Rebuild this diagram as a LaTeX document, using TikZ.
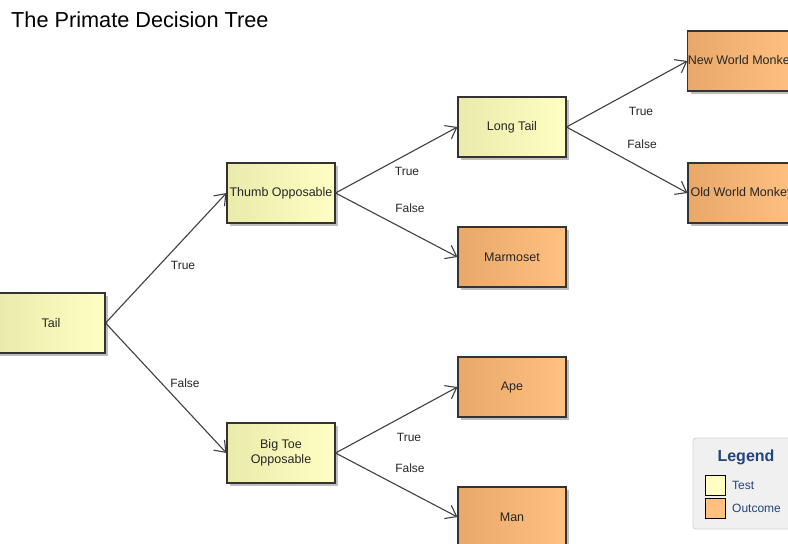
\documentclass[tikz,border=0pt]{standalone}
\usepackage{fontspec}
\setmainfont{Liberation Sans}
\usetikzlibrary{arrows.meta,shadows}
\definecolor{testL}{HTML}{EAEAAC}
\definecolor{testR}{HTML}{FFFFC3}
\definecolor{outL}{HTML}{E8A86A}
\definecolor{outR}{HTML}{FFC082}
\definecolor{edgec}{HTML}{404040}
\definecolor{legblue}{HTML}{23447A}
\definecolor{legfill}{HTML}{F0F0F0}
\definecolor{legdraw}{HTML}{D4D4D4}
\begin{document}
\begin{tikzpicture}[x=1pt,y=-1pt,
 box/.style={draw=black!80, line width=1.1pt, minimum width=108pt, minimum height=60pt,
   inner sep=0pt, align=center, font=\fontsize{12.5}{15}\selectfont, text=black!85,
   drop shadow={shadow xshift=3pt,shadow yshift=-3pt,fill=black!25,opacity=1}},
 testbox/.style={box, left color=testL, right color=testR},
 outbox/.style={box, left color=outL, right color=outR},
 arr/.style={draw=edgec, line width=1.1pt, -{Straight Barb[length=10pt,width=15pt]}},
 lbl/.style={font=\fontsize{12}{14}\selectfont, text=black!85, inner sep=0pt},
 swatch/.style={draw=black, line width=1pt, minimum width=20pt, minimum height=20pt, inner sep=0pt},
 legtxt/.style={font=\fontsize{12}{14}\selectfont, text=legblue, inner sep=0pt, anchor=west},
]
\useasboundingbox (0,0) rectangle (788,544);
\clip (0,0) rectangle (788,544);
\fill[white] (0,0) rectangle (788,544);

\node[anchor=west, inner sep=0pt, font=\fontsize{21.7}{24}\selectfont] (title) at (11,20) {The Primate Decision Tree};

\node[testbox] (tail) at (51,323) {Tail};
\node[testbox] (thumb) at (281,193) {Thumb Opposable};
\node[testbox] (bigtoe) at (281,453) {Big Toe\\Opposable};
\node[testbox] (longtail) at (512,127) {Long Tail};
\node[outbox] (marmoset) at (512,257) {Marmoset};
\node[outbox] (ape) at (512,387) {Ape};
\node[outbox] (man) at (512,517) {Man};
\node[outbox] (nwm) at (742,61) {New World Monkey};
\node[outbox] (owm) at (742,193) {Old World Monkey};

\draw[arr] (tail.east) -- (thumb.west);
\draw[arr] (tail.east) -- (bigtoe.west);
\draw[arr] (thumb.east) -- (longtail.west);
\draw[arr] (thumb.east) -- (marmoset.west);
\draw[arr] (bigtoe.east) -- (ape.west);
\draw[arr] (bigtoe.east) -- (man.west);
\draw[arr] (longtail.east) -- (nwm.west);
\draw[arr] (longtail.east) -- (owm.west);

\node[lbl] (l1) at (183,265) {True};
\node[lbl] (l2) at (185,383) {False};
\node[lbl] (l3) at (407,171) {True};
\node[lbl] (l4) at (410,208) {False};
\node[lbl] (l5) at (409,437) {True};
\node[lbl] (l6) at (410,468) {False};
\node[lbl] (l7) at (641,111) {True};
\node[lbl] (l8) at (642,144) {False};

% legend
\draw[draw=legdraw, fill=legfill, rounded corners=3pt, line width=0.8pt] (693,438) rectangle (810,529);
\node[font=\bfseries\fontsize{16}{18}\selectfont, text=legblue, inner sep=0pt] (legtitle) at (746,457) {Legend};
\node[swatch, fill=testR] (swtest) at (715,485) {};
\node[swatch, fill=outR] (swout) at (715,508) {};
\node[legtxt] (ltest) at (732,485) {Test};
\node[legtxt] (lout) at (732,508) {Outcome};
\end{tikzpicture}
\end{document}
